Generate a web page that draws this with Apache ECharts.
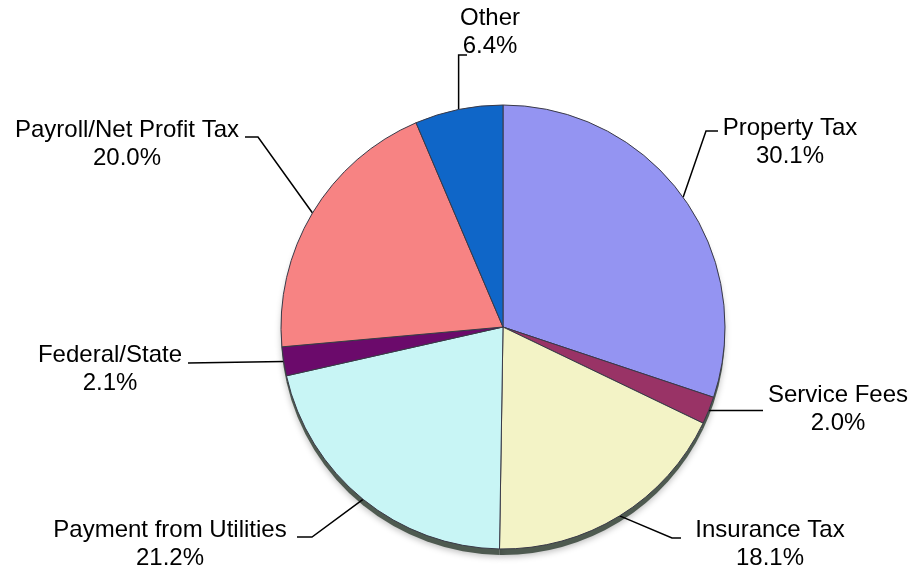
<!DOCTYPE html>
<html>
<head>
<meta charset="utf-8">
<script src="https://cdn.jsdelivr.net/npm/echarts@6/dist/echarts.min.js"></script>
<style>
html,body{margin:0;padding:0;background:#fff;}
#chart{width:913px;height:576px;}
</style>
</head>
<body>
<div id="chart"></div>
<script>
// ---- data ----
const categories = ['Property Tax','Service Fees','Insurance Tax','Payment from Utilities','Federal/State','Payroll/Net Profit Tax','Other'];
const values = [30.1, 2.0, 18.1, 21.2, 2.1, 20.0, 6.4];

// ---- styles ----
const sliceColors = ['#9494F2','#993366','#F3F3C6','#C8F5F5','#6B0A6B','#F78383','#0F66C8'];
// label placement (text block centre) and leader shape
const labelPlaces = [
  {x:790, y:142, kind:'bend', bend:[706,131], end:[718,131]},
  {x:838, y:409, kind:'h', endX:763},
  {x:770, y:544, kind:'bend', bend:[672,538], end:[681,538]},
  {x:170, y:544, kind:'bend', bend:[312,537], end:[297,537]},
  {x:110, y:369, kind:'straight', end:[188,363]},
  {x:127, y:144, kind:'bend', bend:[258,137], end:[245,137]},
  {x:490, y:32,  kind:'v', vy:55, endX:467}
];

const data = categories.map((c,i)=>({name:c, value:values[i], itemStyle:{color:sliceColors[i]}}));
const depthData = categories.map((c,i)=>({name:c, value:values[i]}));

function leader(L, p0){
  if (L.kind === 'h') return [p0, [(p0[0]+L.endX)/2, p0[1]], [L.endX, p0[1]]];
  if (L.kind === 'straight') return [p0, [(p0[0]+L.end[0])/2, (p0[1]+L.end[1])/2], L.end];
  if (L.kind === 'v') return [p0, [p0[0], L.vy], [L.endX, L.vy]];
  return [p0, L.bend, L.end];
}

const chart = echarts.init(document.getElementById('chart'));
chart.setOption({
  backgroundColor:'#ffffff',
  animation:false,
  series:[
    {
      type:'pie', silent:true, z:1,
      center:[503,333], radius:222,
      startAngle:90, clockwise:true,
      label:{show:false}, labelLine:{show:false},
      itemStyle:{color:'#4e5a50', borderWidth:0, shadowBlur:6, shadowColor:'rgba(0,0,0,0.25)', shadowOffsetY:2},
      data:depthData
    },
    {
      type:'pie', z:2,
      center:[503,327], radius:222,
      startAngle:90, clockwise:true,
      itemStyle:{borderColor:'#3a3a48', borderWidth:1},
      label:{
        show:true, position:'outside',
        fontFamily:'Liberation Sans, Arial, sans-serif',
        fontSize:24, lineHeight:28, color:'#000',
        align:'center',
        formatter:p=>p.name+'\n'+p.value.toFixed(1)+'%'
      },
      labelLine:{show:true, smooth:false, lineStyle:{color:'#000', width:1.5}},
      labelLayout:function(params){
        const L = labelPlaces[params.dataIndex];
        const p0 = params.labelLinePoints ? params.labelLinePoints[0] : [L.x, L.y];
        return {
          x:L.x, y:L.y, align:'center', verticalAlign:'middle',
          labelLinePoints:leader(L, p0)
        };
      },
      emphasis:{disabled:true},
      data:data
    }
  ]
});
</script>
</body>
</html>
